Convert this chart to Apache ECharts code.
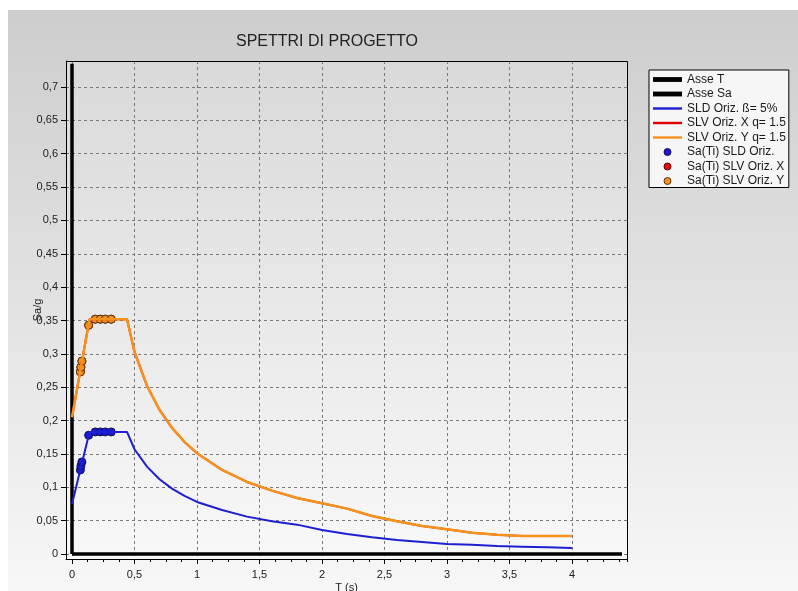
<!DOCTYPE html>
<html>
<head>
<meta charset="utf-8">
<script src="https://cdn.jsdelivr.net/npm/echarts@6/dist/echarts.min.js"></script>
<style>
  html, body { margin: 0; padding: 0; background: #fff; }
  #chart { width: 798px; height: 591px; }
</style>
</head>
<body>
<div id="chart"></div>
<script>
// period T (s) and spectral values Sa/g
const periodT = [0, 0.14, 0.44, 0.5, 0.6, 0.7, 0.8, 0.9, 1.0, 1.2, 1.4, 1.6, 1.8, 2.0, 2.2, 2.4, 2.6, 2.8, 3.0, 3.2, 3.4, 3.6, 3.8, 4.0];
const saSLD = [0.075, 0.183, 0.183, 0.157, 0.131, 0.112, 0.098, 0.087, 0.078, 0.066, 0.056, 0.049, 0.044, 0.036, 0.030, 0.025, 0.021, 0.018, 0.015, 0.014, 0.012, 0.011, 0.010, 0.009];
const saSLVX = [0.205, 0.352, 0.352, 0.303, 0.252, 0.216, 0.189, 0.168, 0.151, 0.126, 0.108, 0.095, 0.084, 0.076, 0.068, 0.057, 0.049, 0.042, 0.037, 0.032, 0.029, 0.027, 0.027, 0.027];
const saSLVY = [0.205, 0.352, 0.352, 0.303, 0.252, 0.216, 0.189, 0.168, 0.151, 0.126, 0.108, 0.095, 0.084, 0.076, 0.068, 0.057, 0.049, 0.042, 0.037, 0.032, 0.029, 0.027, 0.027, 0.027];

// Sa(Ti) points
const pointT = [0.067, 0.071, 0.079, 0.133, 0.186, 0.226, 0.266, 0.314];
const pointSLD = [0.126, 0.132, 0.138, 0.178, 0.183, 0.183, 0.183, 0.183];
const pointSLVX = [0.273, 0.280, 0.289, 0.343, 0.352, 0.352, 0.352, 0.352];
const pointSLVY = [0.273, 0.280, 0.289, 0.343, 0.352, 0.352, 0.352, 0.352];

// reference axes drawn inside the plot
const asseT_x = [0, 4.4];
const asseT_y = [0, 0];
const asseSa_x = [0, 0];
const asseSa_y = [0, 0.735];

const legendNames = ['Asse T', 'Asse Sa', 'SLD Oriz. ß= 5%', 'SLV Oriz. X q= 1.5', 'SLV Oriz. Y q= 1.5',
  'Sa(Ti) SLD Oriz.', 'Sa(Ti) SLV Oriz. X', 'Sa(Ti) SLV Oriz. Y'];

const zip = (xs, ys) => xs.map((x, i) => [x, ys[i]]);

const isMult = (v, step) => Math.abs(v / step - Math.round(v / step)) < 1e-6;
const fmt = (v, step) => {
  if (!isMult(v, step)) return '';
  return String(Math.round(v * 100) / 100).replace('.', ',');
};

const chart = echarts.init(document.getElementById('chart'));

const thick = 'path://M0,0H24V4H0Z';
const thin = 'path://M0,0H24V2H0Z';

const lineSeries = (name, data, color, width) => ({
  name, type: 'line', data, color,
  showSymbol: false, symbol: 'none',
  lineStyle: { color, width },
  itemStyle: { color, borderWidth: 0 },
  animation: false
});
const pointSeries = (name, data, color, border) => ({
  name, type: 'scatter', data, color,
  symbol: 'circle', symbolSize: 8,
  itemStyle: { color, borderColor: border, borderWidth: 1, opacity: 1 },
  animation: false
});

const option = {
  animation: false,
  textStyle: { fontFamily: 'Liberation Sans, Arial, sans-serif' },
  graphic: [
    {
      type: 'rect', z: -10, silent: true,
      shape: { x: 8, y: 10, width: 790, height: 581 },
      style: { fill: new echarts.graphic.LinearGradient(0, 0, 0, 1, [
        { offset: 0, color: '#cdcdcd' }, { offset: 1, color: '#f7f7f7' }]) }
    },
    {
      type: 'rect', z: 100, silent: true,
      shape: { x: 66.5, y: 61.5, width: 561, height: 498 },
      style: { fill: 'none', stroke: '#000', lineWidth: 1 }
    }
  ],
  title: {
    text: 'SPETTRI DI PROGETTO',
    left: 236, top: 34,
    padding: 0,
    textStyle: { fontSize: 16, fontWeight: 'normal', color: '#222' }
  },
  legend: {
    orient: 'vertical',
    left: 649, top: 70,
    padding: [3, 3, 0, 4],
    itemWidth: 29, itemHeight: 7, itemGap: 1.5,
    backgroundColor: '#f6f6f6',
    borderColor: '#000', borderWidth: 1,
    textStyle: { fontSize: 12, color: '#1a1a1a', lineHeight: 13 },
    itemStyle: { borderWidth: 0 },
    data: [
      { name: legendNames[0], icon: thick },
      { name: legendNames[1], icon: thick },
      { name: legendNames[2], icon: thin },
      { name: legendNames[3], icon: thin },
      { name: legendNames[4], icon: thin },
      { name: legendNames[5], icon: 'circle', itemStyle: { borderWidth: 1, borderColor: '#101050' } },
      { name: legendNames[6], icon: 'circle', itemStyle: { borderWidth: 1, borderColor: '#500' } },
      { name: legendNames[7], icon: 'circle', itemStyle: { borderWidth: 1, borderColor: '#5a3510' } }
    ]
  },
  grid: [
    {
      left: 66, right: 171, top: 61, bottom: 32,
      outerBoundsMode: 'none',
      show: true,
      borderWidth: 0,
      backgroundColor: new echarts.graphic.LinearGradient(0, 0, 0, 1, [
        { offset: 0, color: '#d9d9d9' }, { offset: 1, color: '#f8f8f8' }])
    },
    // second grid only carries the small ticks every 0.125 s, with 0 at the same spot
    { left: 72, right: 171, top: 61, bottom: 32, outerBoundsMode: 'none' }
  ],
  xAxis: [
    {
      type: 'value', gridIndex: 0, min: -0.048, max: 4.44, splitNumber: 9,
      name: 'T (s)', nameLocation: 'middle', nameGap: 23, nameMoveOverlap: false,
      nameTextStyle: { fontSize: 11, color: '#222' },
      axisLine: { show: true, onZero: false, lineStyle: { color: '#000' } },
      axisTick: { show: true, length: 5, lineStyle: { color: '#000' } },
      axisLabel: { fontSize: 11, color: '#222', margin: 10, showMinLabel: false, showMaxLabel: false,
        formatter: v => fmt(v, 0.5) },
      splitLine: { show: true, showMinLine: false, showMaxLine: false,
        lineStyle: { color: '#7a7a7a', type: [3, 3], width: 1 } }
    },
    {
      type: 'value', gridIndex: 1, min: 0, max: 4.44, interval: 0.125,
      axisLine: { show: false, onZero: false },
      axisLabel: { show: false },
      splitLine: { show: false },
      axisTick: { show: true, length: 3, lineStyle: { color: '#000' } }
    }
  ],
  yAxis: [
    {
      type: 'value', gridIndex: 0, min: -0.0075, max: 0.739, splitNumber: 15,
      name: 'Sa/g', nameLocation: 'middle', nameGap: 23, nameMoveOverlap: false,
      nameTextStyle: { fontSize: 11, color: '#222' },
      axisLine: { show: true, onZero: false, lineStyle: { color: '#000' } },
      axisTick: { show: true, length: 5, lineStyle: { color: '#000' } },
      axisLabel: { fontSize: 11, color: '#222', margin: 8, showMinLabel: false, showMaxLabel: false,
        formatter: v => fmt(v, 0.05) },
      splitLine: { show: true, showMinLine: false, showMaxLine: false,
        lineStyle: { color: '#7a7a7a', type: [3, 3], width: 1 } }
    },
    {
      type: 'value', gridIndex: 1, min: 0, max: 1, show: false
    }
  ],
  series: [
    lineSeries(legendNames[0], zip(asseT_x, asseT_y), '#000', 3.5),
    lineSeries(legendNames[1], zip(asseSa_x, asseSa_y), '#000', 3.5),
    lineSeries(legendNames[2], zip(periodT, saSLD), '#1e1ed2', 2),
    lineSeries(legendNames[3], zip(periodT, saSLVX), '#e00000', 2),
    lineSeries(legendNames[4], zip(periodT, saSLVY), '#f5921e', 2.5),
    pointSeries(legendNames[5], zip(pointT, pointSLD), '#1a1ad6', '#101050'),
    pointSeries(legendNames[6], zip(pointT, pointSLVX), '#e01010', '#500'),
    pointSeries(legendNames[7], zip(pointT, pointSLVY), '#f39022', '#5a3510')
  ]
};

chart.setOption(option);
</script>
</body>
</html>
